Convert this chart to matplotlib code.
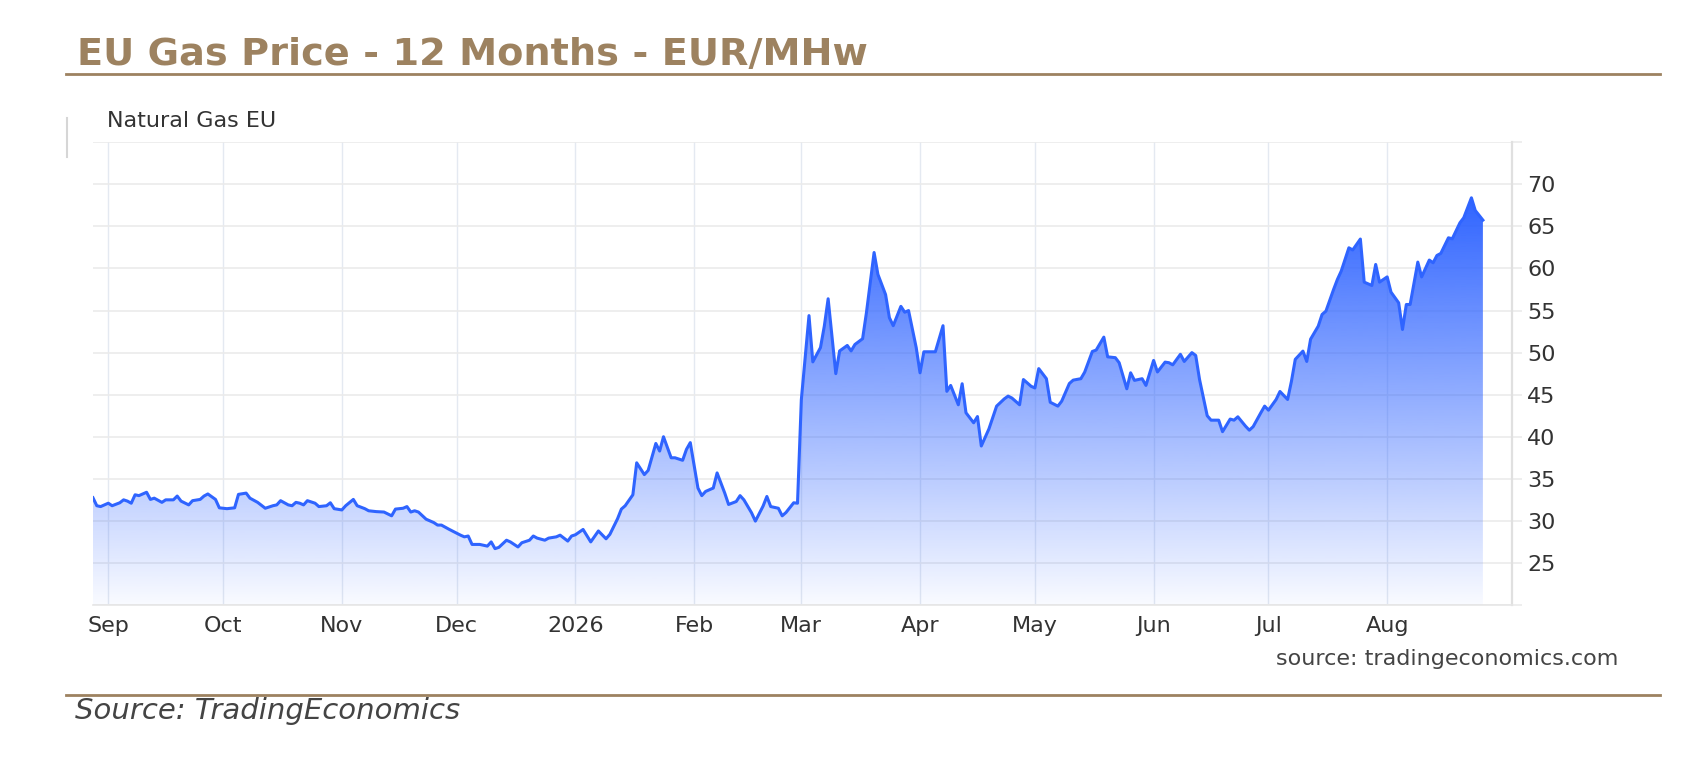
import numpy as np
import matplotlib
matplotlib.use("Agg")
import matplotlib.pyplot as plt
import matplotlib.dates as mdates
from matplotlib.colors import to_rgb
from matplotlib.lines import Line2D

plt.rcParams["font.family"] = ["DejaVu Sans"]

# --- data ---
title = "EU Gas Price - 12 Months - EUR/MHw"
series_name = "Natural Gas EU"
start_date = "2025-09-01"

# days counted from 1 Sep 2025, one row per month
day_offset = [
    -4, -3, -2, 0, 1, 3, 4, 5, 6, 7, 8, 10, 11, 12, 14, 15, 17, 18, 19, 21, 22, 24, 25, 26, 28, 29,
    31, 33, 34, 36, 37, 39, 41, 43, 44, 45, 47, 48, 49, 50, 51, 52, 54, 55, 57, 58, 59,
    61, 62, 64, 65, 67, 68, 70, 72, 74, 75, 77, 78, 79, 80, 81, 83, 85, 86, 87, 89,
    92, 93, 94, 95, 97, 99, 100, 101, 102, 104, 105, 107, 108, 110, 111, 112, 114, 115, 117, 118, 120, 121,
    122, 124, 126, 128, 130, 131, 133, 134, 135, 137, 138, 140, 141, 143, 144, 145, 147, 148, 150, 151, 152,
    154, 155, 156, 158, 159, 161, 162, 164, 165, 166, 168, 169, 171, 172, 173, 175, 176, 177, 179, 180,
    181, 183, 184, 186, 187, 188, 190, 191, 193, 194, 195, 197, 198, 200, 201, 203, 204, 205, 207, 208, 209, 211,
    212, 213, 215, 216, 218, 219, 220, 222, 223, 224, 226, 227, 228, 230, 232, 234, 235, 236, 238, 239, 241,
    242, 243, 245, 246, 248, 249, 251, 252, 254, 255, 257, 258, 260, 261, 263, 264, 266, 267, 268, 270, 271,
    273, 274, 276, 277, 278, 280, 281, 283, 284, 285, 287, 288, 290, 291, 293, 294, 295, 297, 298, 299, 301, 302,
    303, 305, 306, 308, 309, 310, 312, 313, 314, 316, 317, 318, 320, 321, 322, 324, 325, 327, 328, 330, 331, 332,
    334, 335, 337, 338, 339, 340, 342, 343, 345, 346, 347, 348, 350, 351, 353, 354, 356, 357, 359,
]

price = [
    32.75, 31.8, 31.7, 32.1, 31.8, 32.15, 32.5, 32.35, 32.1, 33.1, 33.0, 33.4, 32.55, 32.7, 32.2, 32.5,
    32.5, 32.95, 32.35, 31.9, 32.4, 32.55, 32.95, 33.2, 32.55, 31.55,
    31.45, 31.55, 33.15, 33.3, 32.7, 32.2, 31.5, 31.8, 31.9, 32.4, 31.9, 31.8, 32.2, 32.1, 31.9, 32.4,
    32.1, 31.7, 31.8, 32.15, 31.45,
    31.3, 31.8, 32.55, 31.8, 31.45, 31.2, 31.1, 31.05, 30.6, 31.4, 31.5, 31.7, 31.05, 31.2, 31.05, 30.2,
    29.8, 29.5, 29.5, 29.0,
    28.3, 28.1, 28.2, 27.2, 27.2, 27.0, 27.5, 26.7, 26.85, 27.7, 27.5, 26.9, 27.4, 27.7, 28.2, 27.95,
    27.7, 27.95, 28.1, 28.3, 27.6, 28.2,
    28.35, 28.98, 27.5, 28.8, 27.87, 28.4, 30.25, 31.4, 31.8, 33.1, 36.9, 35.5, 36.0, 39.2, 38.3, 40.0,
    37.5, 37.5, 37.2, 38.5, 39.3,
    33.9, 33.0, 33.5, 33.9, 35.7, 33.3, 31.95, 32.3, 33.0, 32.5, 30.96, 29.97, 31.75, 32.9, 31.7, 31.5,
    30.6, 31.0, 32.15, 32.1,
    44.4, 54.4, 48.9, 50.6, 53.15, 56.4, 47.5, 50.2, 50.85, 50.2, 50.97, 51.65, 54.74, 61.9, 59.3, 56.9,
    54.15, 53.2, 55.5, 54.8, 55.0, 50.6,
    47.6, 50.1, 50.1, 50.1, 53.2, 45.4, 46.1, 43.8, 46.3, 42.85, 41.66, 42.4, 38.9, 40.94, 43.64, 44.5,
    44.83, 44.6, 43.8, 46.8, 46.0,
    45.8, 48.1, 46.9, 44.1, 43.64, 44.23, 46.33, 46.73, 46.9, 47.68, 50.14, 50.3, 51.84, 49.5, 49.4, 48.8,
    45.7, 47.6, 46.7, 46.9, 46.1,
    49.07, 47.7, 48.87, 48.8, 48.55, 49.8, 48.95, 50.0, 49.66, 46.8, 42.5, 41.97, 41.97, 40.6, 42.1, 41.97,
    42.37, 41.26, 40.78, 41.2, 42.85, 43.64,
    43.16, 44.43, 45.38, 44.43, 46.6, 49.2, 50.18, 48.95, 51.6, 53.15, 54.54, 54.93, 57.5, 58.7, 59.69, 62.46,
    62.2, 63.5, 58.38, 57.98, 60.48, 58.38,
    59.0, 57.19, 55.92, 52.75, 55.72, 55.72, 60.76, 59.0, 61.0, 60.68, 61.55, 61.79, 63.65, 63.53, 65.43, 66.03,
    68.4, 66.9, 65.75,
]

month_starts = ["2025-09-01", "2025-10-01", "2025-11-01", "2025-12-01", "2026-01-01", "2026-02-01",
                "2026-03-01", "2026-04-01", "2026-05-01", "2026-06-01", "2026-07-01", "2026-08-01"]
month_labels = ["Sep", "Oct", "Nov", "Dec", "2026", "Feb", "Mar", "Apr", "May", "Jun", "Jul", "Aug"]
y_ticks = [20, 25, 30, 35, 40, 45, 50, 55, 60, 65, 70, 75]

# --- styling ---
BROWN = "#9d8260"
BLUE = "#2f64ff"
W, H = 1698, 758


def fx(px):
    return px / W


def fy(py):
    return 1 - py / H


fig = plt.figure(figsize=(W / 100, H / 100), dpi=100)
fig.patch.set_facecolor("white")

ax = fig.add_axes([fx(92.7), fy(605), fx(1512) - fx(92.7), fy(142.3) - fy(605)])

start = np.datetime64(start_date)
dates = start + np.array(day_offset, dtype="timedelta64[D]")
x = mdates.date2num(dates)
y = np.array(price)
y_bottom = 20

# area with vertical gradient, clipped to the series
area = ax.fill_between(x, y, y_bottom, facecolor="none", edgecolor="none")
t = np.linspace(0, 1, 256).reshape(-1, 1)
rgba = np.zeros((256, 1, 4))
rgba[..., :3] = to_rgb(BLUE)
rgba[..., 3] = 0.03 + 0.97 * t
im = ax.imshow(rgba, extent=[x.min(), x.max(), y_bottom, y.max()], origin="lower",
               aspect="auto", zorder=1, interpolation="bilinear")
im.set_clip_path(area.get_paths()[0], transform=ax.transData)

ax.plot(x, y, color=BLUE, lw=2.2, solid_joinstyle="round", zorder=3)

x0 = mdates.date2num(start)
ax.set_xlim(x0 - 4.07, x0 + 366.6)
ax.set_ylim(y_bottom, 75)

ax.set_xticks(mdates.date2num(np.array(month_starts, dtype="datetime64[D]")))
ax.set_xticklabels(month_labels)
ax.set_yticks(y_ticks)
ax.set_yticklabels(["" if v in (20, 75) else str(v) for v in y_ticks])
ax.yaxis.tick_right()

ax.grid(axis="x", color="#e4e9f1", lw=1.0)
ax.grid(axis="y", color="#ebebeb", lw=1.2)
ax.set_axisbelow(True)

ax.tick_params(axis="x", length=0, pad=8, labelsize=16, labelcolor="#333333")
ax.tick_params(axis="y", length=7, width=1.2, color="#ebebeb", pad=4, labelsize=16,
               labelcolor="#333333")

for side in ("top", "left"):
    ax.spines[side].set_visible(False)
ax.spines["right"].set_color("#e0e0e0")
ax.spines["right"].set_linewidth(1.6)
ax.spines["bottom"].set_color("#e6e6e6")
ax.spines["bottom"].set_linewidth(1.2)

# --- surrounding text and rules ---
fig.text(fx(77), fy(65), title, fontsize=27.5, fontweight="bold", color=BROWN, va="baseline")
fig.add_artist(Line2D([fx(66), fx(1660)], [fy(74.3), fy(74.3)], color=BROWN, lw=2.0))

fig.text(fx(106.7), fy(126.7), series_name, fontsize=16, color="#333333", va="baseline")
fig.add_artist(Line2D([fx(67), fx(67)], [fy(118), fy(157)], color="#d6d6d6", lw=1.5))

fig.text(fx(1618), fy(665), "source: tradingeconomics.com", fontsize=16, color="#444444",
         ha="right", va="baseline")
fig.add_artist(Line2D([fx(66), fx(1660)], [fy(695), fy(695)], color=BROWN, lw=2.0))
fig.text(fx(75), fy(719.3), "Source: TradingEconomics", fontsize=21, style="italic",
         color="#444444", va="baseline")

fig.savefig("out.png", dpi=100, facecolor="white")
